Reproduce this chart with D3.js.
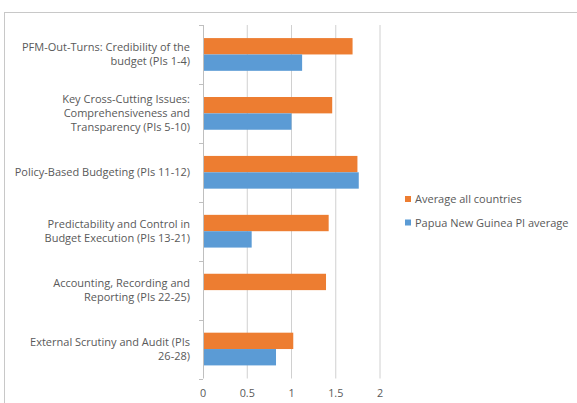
<!DOCTYPE html>
<html>
<head>
<meta charset="utf-8">
<script src="https://cdn.jsdelivr.net/npm/d3@7"></script>
<style>
  body { margin: 0; background: #fff; }
  text { font-family: "Open Sans", "Liberation Sans", sans-serif; fill: #595959; }
</style>
</head>
<body>
<script>
//categories, top to bottom (each label split into its lines)
var categories = [
    ["PFM-Out-Turns: Credibility of the", "budget (PIs 1-4)"],
    ["Key Cross-Cutting Issues:", "Comprehensiveness and", "Transparency (PIs 5-10)"],
    ["Policy-Based Budgeting (PIs 11-12)"],
    ["Predictability and Control in", "Budget Execution (PIs 13-21)"],
    ["Accounting, Recording and", "Reporting (PIs 22-25)"],
    ["External Scrutiny and Audit (PIs", "26-28)"]
];
var averageAll = [1.69, 1.46, 1.745, 1.42, 1.39, 1.02];
var pngAverage = [1.12, 1.0, 1.76, 0.55, 0, 0.825];
var seriesNames = ["Average all countries", "Papua New Guinea PI average"];
var seriesColors = ["#ED7D31", "#5B9BD5"];
var xTicks = [0, 0.5, 1, 1.5, 2];

var width = 577,
    height = 403;

var svg = d3.select("body")
    .append("svg")
    .attr("width", width)
    .attr("height", height);

//chart border (runs off the right and bottom edges)
svg.append("rect")
    .attr("x", 4.5)
    .attr("y", 12.5)
    .attr("width", 620)
    .attr("height", 420)
    .attr("fill", "none")
    .attr("stroke", "#c8c8c8");

var plotTop = 25, plotBottom = 378.5,
    plotLeft = 203, plotRight = 380;

var x = d3.scaleLinear()
    .domain([0, 2])
    .range([plotLeft, plotRight]);

var idx = d3.range(categories.length);
var y = d3.scaleBand()
    .domain(idx)
    .range([plotTop, plotBottom])
    .paddingInner(0)
    .paddingOuter(0);

var inner = d3.scaleBand()
    .domain([0, 1])
    .range([0, y.bandwidth()])
    .paddingInner(0)
    .paddingOuter(0.8);

//vertical gridlines
svg.selectAll(".grid")
    .data(xTicks.slice(1))
    .enter()
    .append("line")
    .attr("class", "grid")
    .attr("x1", function(d){ return x(d); })
    .attr("x2", function(d){ return x(d); })
    .attr("y1", plotTop)
    .attr("y2", plotBottom)
    .attr("stroke", "#d0d0d0");

//bars
var series = [averageAll, pngAverage];
series.forEach(function(vals, s){
    svg.selectAll(".bar" + s)
        .data(vals)
        .enter()
        .append("rect")
        .attr("class", "bar" + s)
        .attr("x", x(0))
        .attr("y", function(d, i){ return y(i) + inner(s); })
        .attr("width", function(d){ return x(d) - x(0); })
        .attr("height", inner.bandwidth())
        .attr("fill", seriesColors[s]);
});

//y axis line with ticks at category boundaries
svg.append("line")
    .attr("x1", plotLeft + 0.5).attr("x2", plotLeft + 0.5)
    .attr("y1", plotTop).attr("y2", plotBottom)
    .attr("stroke", "#bfbfbf");
svg.selectAll(".ytick")
    .data(d3.range(categories.length + 1))
    .enter()
    .append("line")
    .attr("class", "ytick")
    .attr("x1", plotLeft - 4).attr("x2", plotLeft)
    .attr("y1", function(d){ return Math.round(plotTop + d * y.step()) + 0.5; })
    .attr("y2", function(d){ return Math.round(plotTop + d * y.step()) + 0.5; })
    .attr("stroke", "#bfbfbf");

//category labels
var lineH = 14;
svg.selectAll(".cat")
    .data(categories)
    .enter()
    .append("text")
    .attr("class", "cat")
    .attr("text-anchor", "end")
    .attr("font-size", "11px")
    .each(function(lines, i){
        var cy = y(i) + y.bandwidth() / 2;
        var t0 = cy - (lines.length - 1) * lineH / 2 + 4;
        d3.select(this).selectAll("tspan")
            .data(lines)
            .enter()
            .append("tspan")
            .attr("x", 190)
            .attr("y", function(d, j){ return t0 + j * lineH; })
            .text(function(d){ return d; });
    });

//x tick labels
svg.selectAll(".xlab")
    .data(xTicks)
    .enter()
    .append("text")
    .attr("class", "xlab")
    .attr("x", function(d){ return x(d); })
    .attr("y", 397)
    .attr("text-anchor", "middle")
    .attr("font-size", "10.8px")
    .text(function(d){ return d; });

//legend
var legend = svg.selectAll(".legend")
    .data(seriesNames)
    .enter()
    .append("g")
    .attr("class", "legend")
    .attr("transform", function(d, i){ return "translate(405," + (199 + i * 23.5) + ")"; });
legend.append("rect")
    .attr("x", 0).attr("y", -3)
    .attr("width", 6).attr("height", 6)
    .attr("fill", function(d, i){ return seriesColors[i]; });
legend.append("text")
    .attr("x", 10)
    .attr("y", 4)
    .attr("font-size", "11px")
    .text(function(d){ return d; });
</script>
</body>
</html>
